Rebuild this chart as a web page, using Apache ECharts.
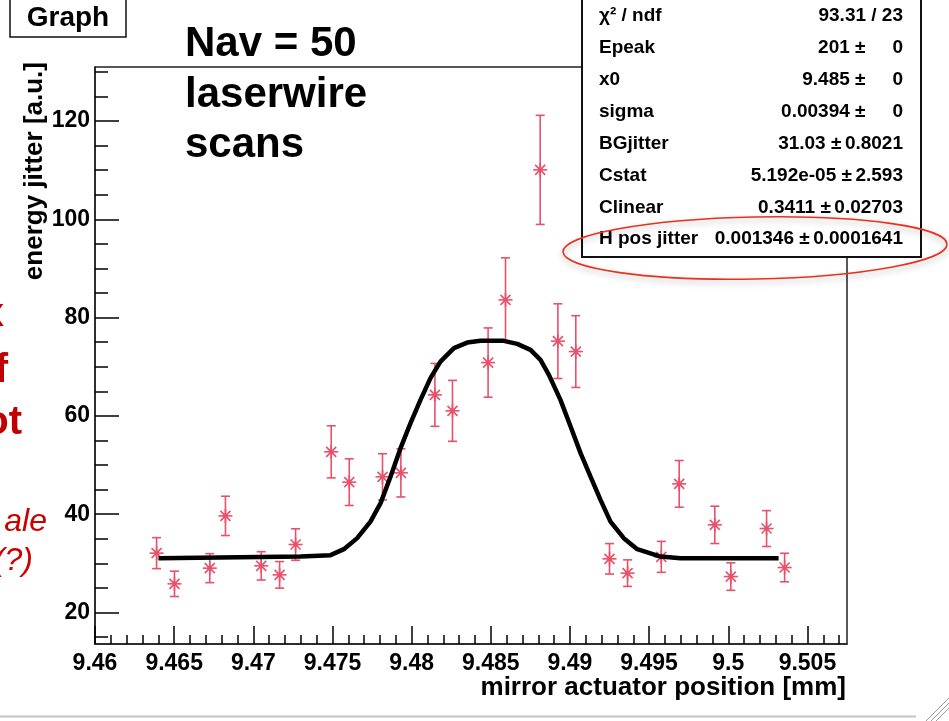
<!DOCTYPE html>
<html>
<head>
<meta charset="utf-8">
<script src="https://cdn.jsdelivr.net/npm/echarts@6/dist/echarts.min.js"></script>
<style>
  html, body { margin: 0; padding: 0; background: #ffffff; }
  #chart { width: 949px; height: 721px; }
</style>
</head>
<body>
<div id="chart"></div>
<script>
// Laserwire scan: energy jitter vs mirror actuator position
const scanPos = [9.46389, 9.46502, 9.46725, 9.46824, 9.47050, 9.47166, 9.47267, 9.47492, 9.47606,
  9.47816, 9.47932, 9.48147, 9.48258, 9.48483, 9.48593, 9.48812, 9.48924, 9.49037, 9.49250,
  9.49364, 9.49577, 9.49690, 9.49915, 9.50016, 9.50242, 9.50356];
const jitter = [32.09, 25.84, 29.03, 39.67, 29.50, 27.67, 33.84, 52.70, 46.53,
  47.61, 48.42, 64.29, 61.04, 70.86, 83.62, 110.07, 75.22, 73.10, 30.93,
  28.02, 31.33, 46.18, 37.84, 27.32, 37.09, 29.16];
const jitterErr = [3.15, 2.58, 2.95, 4.00, 2.88, 2.70, 3.20, 5.30, 4.75,
  4.70, 4.90, 6.40, 6.20, 7.05, 8.55, 11.10, 7.60, 7.30, 3.10,
  2.70, 3.15, 4.75, 3.80, 2.80, 3.65, 2.90];

// fitted curve, sampled along x
const fitPos = [9.46401, 9.47298, 9.47488, 9.47572, 9.47656, 9.47740, 9.47804, 9.47867, 9.47930,
  9.47993, 9.48056, 9.48119, 9.48182, 9.48267, 9.48351, 9.48435, 9.48582, 9.48667, 9.48751,
  9.48814, 9.48867, 9.48940, 9.49004, 9.49067, 9.49130, 9.49193, 9.49256, 9.49340, 9.49425,
  9.49572, 9.49698, 9.50318];
const fitJitter = [31.03, 31.39, 31.68, 32.90, 35.14, 38.51, 42.26, 47.67, 53.45,
  58.53, 63.28, 67.69, 71.07, 73.79, 74.93, 75.28, 75.28, 74.67, 73.45,
  71.41, 68.36, 63.28, 57.84, 52.43, 47.67, 42.93, 38.51, 35.14, 32.90,
  31.39, 31.03, 31.03];

// axis ticks
const xTickValues = [9.46, 9.465, 9.47, 9.475, 9.48, 9.485, 9.49, 9.495, 9.5, 9.505];
const yTickValues = [20, 40, 60, 80, 100, 120];
const xRange = [9.46, 9.5075];
const yRange = [13.6, 131.0];

// fit statistics box
const statLabels = ['χ² / ndf', 'Epeak', 'x0', 'sigma', 'BGjitter', 'Cstat', 'Clinear', 'H pos jitter'];
const statValues = ['93.31 / 23', '201', '9.485', '0.00394', '31.03', '5.192e-05', '0.3411', '0.001346'];
const statErrors = [null, '0', '0', '0', '0.8021', '2.593', '0.02703', '0.0001641'];

const FONT = '"Liberation Sans", Arial, Helvetica, sans-serif';
const markColor = '#e9506a';

// minor tick positions: every 0.001 on x, every 5 on y
const xMinor = [];
for (let k = 9461; k <= 9507; k++) if (k % 5 !== 0) xMinor.push(k / 1000);
const yMinor = [];
for (let v = 15; v <= 130; v += 5) if (v % 20 !== 0) yMinor.push(v);

const chart = echarts.init(document.getElementById('chart'), null, { renderer: 'canvas' });

// text width helper for the statistics box
const measureCtx = document.createElement('canvas').getContext('2d');
function textWidth(str, font) {
  measureCtx.font = font;
  return measureCtx.measureText(str).width;
}

const statFont = 'bold 19px ' + FONT;
const statGraphics = [];
const rowTop = 15.9, rowStep = 31.9, labelX = 599, rightX = 903;
statLabels.forEach((lab, i) => {
  const y = rowTop + rowStep * i;
  statGraphics.push({
    type: 'text', x: labelX, y: y, z: 102,
    style: { text: lab, font: statFont, fill: '#000', align: 'left', verticalAlign: 'middle' }
  });
  if (statErrors[i] === null) {
    statGraphics.push({
      type: 'text', x: rightX, y: y, z: 102,
      style: { text: statValues[i], font: statFont, fill: '#000', align: 'right', verticalAlign: 'middle' }
    });
  } else {
    const ew = Math.max(textWidth(statErrors[i], statFont), 34);
    statGraphics.push({
      type: 'text', x: rightX, y: y, z: 102,
      style: { text: statErrors[i], font: statFont, fill: '#000', align: 'right', verticalAlign: 'middle' }
    });
    statGraphics.push({
      type: 'text', x: rightX - ew - 3.5, y: y, z: 102,
      style: { text: statValues[i] + ' ±', font: statFont, fill: '#000', align: 'right', verticalAlign: 'middle' }
    });
  }
});

function fmtX(v) { return String(+v.toFixed(4)); }

const option = {
  backgroundColor: '#ffffff',
  animation: false,
  textStyle: { fontFamily: FONT },
  grid: {
    left: 95, right: 102, top: 67, bottom: 77,
    show: true, borderColor: '#222', borderWidth: 1.5, backgroundColor: '#ffffff'
  },
  xAxis: [
    {
      type: 'value', min: xRange[0], max: xRange[1], position: 'bottom',
      splitLine: { show: false },
      axisLine: { show: true, lineStyle: { color: '#222', width: 1.5 } },
      axisTick: { show: true, inside: true, length: 18, customValues: xTickValues,
        lineStyle: { color: '#000', width: 1.5 } },
      axisLabel: { show: true, customValues: xTickValues, formatter: fmtX, margin: 8,
        fontSize: 23, fontWeight: 'bold', color: '#000', fontFamily: FONT }
    },
    {
      type: 'value', min: xRange[0], max: xRange[1], position: 'bottom', offset: 0,
      splitLine: { show: false },
      axisLine: { show: false },
      axisTick: { show: true, inside: true, length: 9, customValues: xMinor,
        lineStyle: { color: '#000', width: 1.5 } },
      axisLabel: { show: false }
    }
  ],
  yAxis: [
    {
      type: 'value', min: yRange[0], max: yRange[1], position: 'left',
      splitLine: { show: false },
      axisLine: { show: true, lineStyle: { color: '#222', width: 1.5 } },
      axisTick: { show: true, inside: true, length: 24, customValues: yTickValues,
        lineStyle: { color: '#000', width: 1.5 } },
      axisLabel: { show: true, customValues: yTickValues, margin: 5,
        fontSize: 23, fontWeight: 'bold', color: '#000', fontFamily: FONT }
    },
    {
      type: 'value', min: yRange[0], max: yRange[1], position: 'left', offset: 0,
      splitLine: { show: false },
      axisLine: { show: false },
      axisTick: { show: true, inside: true, length: 13, customValues: yMinor,
        lineStyle: { color: '#000', width: 1.5 } },
      axisLabel: { show: false }
    }
  ],
  series: [
    {
      name: 'scan points',
      type: 'custom',
      xAxisIndex: 0, yAxisIndex: 0,
      z: 2,
      data: scanPos.map((x, i) => [x, jitter[i], jitterErr[i]]),
      encode: { x: 0, y: 1 },
      renderItem: function (params, api) {
        const x = api.value(0), y = api.value(1), e = api.value(2);
        const c = api.coord([x, y]);
        const hi = api.coord([x, y + e]);
        const lo = api.coord([x, y - e]);
        const st = { stroke: markColor, lineWidth: 1.6 };
        const r = 7, d = 5, cap = 4.5;
        return {
          type: 'group',
          children: [
            { type: 'line', shape: { x1: c[0], y1: hi[1], x2: c[0], y2: lo[1] }, style: st },
            { type: 'line', shape: { x1: c[0] - cap, y1: hi[1], x2: c[0] + cap, y2: hi[1] }, style: st },
            { type: 'line', shape: { x1: c[0] - cap, y1: lo[1], x2: c[0] + cap, y2: lo[1] }, style: st },
            { type: 'line', shape: { x1: c[0] - r, y1: c[1], x2: c[0] + r, y2: c[1] }, style: st },
            { type: 'line', shape: { x1: c[0], y1: c[1] - r, x2: c[0], y2: c[1] + r }, style: st },
            { type: 'line', shape: { x1: c[0] - d, y1: c[1] - d, x2: c[0] + d, y2: c[1] + d }, style: st },
            { type: 'line', shape: { x1: c[0] - d, y1: c[1] + d, x2: c[0] + d, y2: c[1] - d }, style: st },
            { type: 'circle', shape: { cx: c[0], cy: c[1], r: 2.3 }, style: { fill: markColor } }
          ]
        };
      }
    },
    {
      name: 'fit',
      type: 'line',
      xAxisIndex: 0, yAxisIndex: 0,
      z: 3,
      data: fitPos.map((x, i) => [x, fitJitter[i]]),
      symbol: 'none',
      smooth: false,
      lineStyle: { color: '#000', width: 4.5 }
    }
  ],
  graphic: [
    // title box
    { type: 'rect', z: 100, shape: { x: 10, y: -2, width: 116, height: 39 },
      style: { fill: '#fff', stroke: '#111', lineWidth: 1.5 } },
    { type: 'text', z: 101, x: 68, y: 18,
      style: { text: 'Graph', font: 'bold 28px ' + FONT, fill: '#000', align: 'center', verticalAlign: 'middle' } },

    // annotation
    { type: 'text', z: 101, x: 185, y: 44,
      style: { text: 'Nav = 50', font: 'bold 42px ' + FONT, fill: '#000', align: 'left', verticalAlign: 'middle' } },
    { type: 'text', z: 101, x: 185, y: 95,
      style: { text: 'laserwire', font: 'bold 42px ' + FONT, fill: '#000', align: 'left', verticalAlign: 'middle' } },
    { type: 'text', z: 101, x: 185, y: 145,
      style: { text: 'scans', font: 'bold 42px ' + FONT, fill: '#000', align: 'left', verticalAlign: 'middle' } },

    // axis titles
    { type: 'text', z: 101, x: 846, y: 688,
      style: { text: 'mirror actuator position [mm]', font: 'bold 26px ' + FONT, fill: '#000',
        align: 'right', verticalAlign: 'middle' } },
    { type: 'text', z: 101, x: 35, y: 62, rotation: Math.PI / 2,
      style: { text: 'energy jitter [a.u.]', font: 'bold 26px ' + FONT, fill: '#000',
        align: 'right', verticalAlign: 'middle' } },

    // side notes in red
    { type: 'text', z: 101, x: 4, y: 315,
      style: { text: 'x', font: 'bold 40px ' + FONT, fill: '#c00000', align: 'right', verticalAlign: 'middle' } },
    { type: 'text', z: 101, x: 8, y: 371,
      style: { text: 'of', font: 'bold 40px ' + FONT, fill: '#c00000', align: 'right', verticalAlign: 'middle' } },
    { type: 'text', z: 101, x: 22, y: 423,
      style: { text: 'lot', font: 'bold 40px ' + FONT, fill: '#c00000', align: 'right', verticalAlign: 'middle' } },
    { type: 'text', z: 101, x: 47, y: 522,
      style: { text: 'ale', font: 'italic 32px ' + FONT, fill: '#cc0000', align: 'right', verticalAlign: 'middle' } },
    { type: 'text', z: 101, x: 33, y: 561,
      style: { text: '(?)', font: 'italic 32px ' + FONT, fill: '#cc0000', align: 'right', verticalAlign: 'middle' } },

    // statistics box
    { type: 'rect', z: 100, shape: { x: 582, y: -3, width: 339, height: 260 },
      style: { fill: '#fff', stroke: '#111', lineWidth: 2 } },
    ...statGraphics,
    { type: 'ellipse', z: 103, x: 755, y: 248, rotation: 0.02,
      shape: { cx: 0, cy: 0, rx: 192, ry: 31 },
      style: { fill: 'none', stroke: '#e8321e', lineWidth: 1.6,
        shadowBlur: 6, shadowColor: 'rgba(0,0,0,0.3)', shadowOffsetY: 3 } },

    // window edge and resize grip
    { type: 'line', z: 100, shape: { x1: 0, y1: 716.5, x2: 916, y2: 716.5 },
      style: { stroke: '#c4c4c4', lineWidth: 2 } },
    { type: 'line', z: 100, shape: { x1: 926, y1: 721, x2: 949, y2: 698 },
      style: { stroke: '#9a9a9a', lineWidth: 1 } },
    { type: 'line', z: 100, shape: { x1: 931, y1: 721, x2: 949, y2: 703 },
      style: { stroke: '#9a9a9a', lineWidth: 1 } },
    { type: 'line', z: 100, shape: { x1: 936, y1: 721, x2: 949, y2: 708 },
      style: { stroke: '#9a9a9a', lineWidth: 1 } }
  ]
};

chart.setOption(option);
</script>
</body>
</html>
